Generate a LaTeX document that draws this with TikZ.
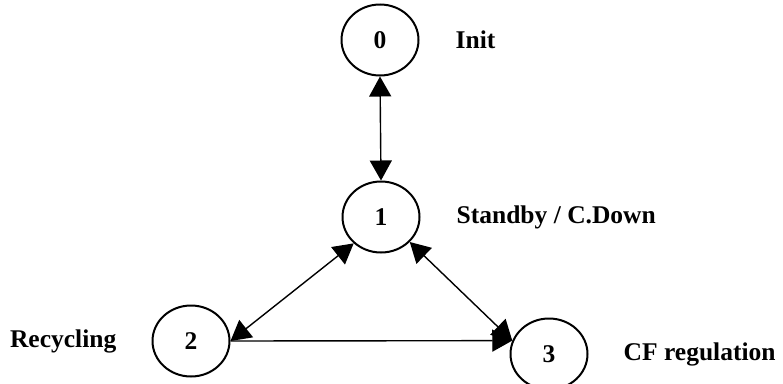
\documentclass[tikz,border=0pt]{standalone}
\usepackage{fontspec}
\setmainfont{Liberation Serif}
\usetikzlibrary{positioning,shapes.geometric,arrows.meta}
\newcommand{\statefont}{\fontsize{25.5}{30}\selectfont\bfseries}
\tikzset{
  big/.tip={Triangle[length=20pt,width=22pt]},
  state/.style={ellipse, draw=black, line width=2pt, minimum width=77pt, minimum height=71pt, inner sep=0pt, font=\statefont},
  tag/.style={inner sep=0pt, font=\statefont},
  link/.style={line width=1.4pt, big-big},
  node distance=36pt
}
\begin{document}
\begin{tikzpicture}[x=1pt,y=-1pt]
	\useasboundingbox (0,0) rectangle (783,383);
	\node[state] (s0) at (380,40) {0};
	\node[state] (s1) at (381,217) {1};
	\node[state] (s2) at (191,341) {2};
	\node[state] (s3) at (549,354) {3};
	\node[tag, right=of s0] (init) {Init};
	\node[tag, right=of s1] (standby) {Standby / C.Down};
	\node[tag, left=35pt of s2] (recycling) {Recycling};
	\node[tag, right=35pt of s3] (cfreg) {CF regulation};
	%
	\draw[link] (s0.south) -- (s1.north);
	\draw[link] (s1.-136) -- (s2.east);
	\draw[link] (s1.-41) -- (s3.160);
	\draw[line width=1.4pt, -big] (s2.east) -- (s3.160);
\end{tikzpicture}
\end{document}
